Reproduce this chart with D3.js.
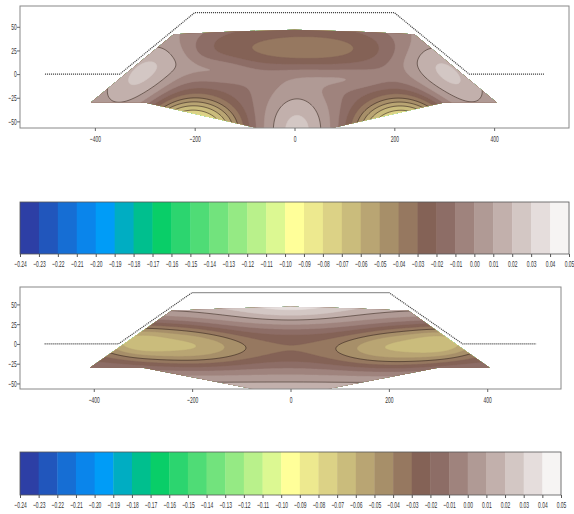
<!DOCTYPE html>
<html>
<head>
<meta charset="utf-8">
<script src="https://cdn.jsdelivr.net/npm/d3@7"></script>
<style>
  body { margin: 0; background: #fff; }
  text { font-family: "Liberation Sans", Arial, sans-serif; fill: #333; }
</style>
</head>
<body>
<svg id="chart" width="574" height="514"></svg>
<script>
// filled contour levels (same for both panels) and axis ticks
const levels = d3.range(30).map(i => +(-0.24 + i * 0.01).toFixed(2));
const xTicks = [-400, -200, 0, 200, 400];
const yTicks = [-50, -25, 0, 25, 50];

// dam outline, dotted
const outlineX = [-500, -350, -200, 200, 350, 500];
const outlineY = [0, 0, 65, 65, 0, 0];

// boundary of the meshed section where the field is drawn
const meshX = [-408, -300, -75, 75, 300, 405, 240, 120, 0, -120, -242];
const meshY = [-30, -30, -57, -57, -30, -30, 42, 45, 47, 45, 42];

// panel 1 : background value + features
// (centre x, centre y, half length, half width, tilt deg, amplitude, sharpness)
const base1 = -0.006;
const f1X   = [0, 20, -305, 308, 5, -205, 216, -205, 216, -150, 115];
const f1Y   = [30, 27, -2, -3, -58, -62, -62, -50, -50, 5, -6];
const f1Rx  = [230, 95, 115, 115, 72, 95, 95, 150, 150, 70, 80];
const f1Ry  = [50, 24, 60, 60, 86, 72, 72, 110, 110, 28, 20];
const f1Ang = [0, 0, 41, -41, 0, 0, 0, 0, 0, 0, 0];
const f1Amp = [-0.02, -0.013, 0.033, 0.033, 0.034, -0.066, -0.066, -0.016, -0.016, 0.012, 0.01];
const f1Pow = [4, 2, 2, 2, 2, 3, 3, 2, 2, 2, 2];
const lines1 = [-0.09, -0.08, -0.07, -0.06, -0.05, -0.04, 0.01];

// panel 2
const base2 = 0.03;
const f2X   = [0, 0, -240, 240, -320, 315];
const f2Y   = [-3, 50, 0, -3, 4, 4];
const f2Rx  = [4000, 140, 145, 145, 60, 60];
const f2Ry  = [86, 60, 52, 52, 40, 40];
const f2Ang = [0, 0, -6, 6, 0, 0];
const f2Amp = [-0.06, 0.02, -0.032, -0.032, -0.012, -0.012];
const f2Pow = [2, 2, 2.6, 2.6, 2, 2];
const lines2 = [-0.04, 0.01];

// matplotlib "terrain"
const terrain = d3.scaleLinear()
  .domain([0, 0.15, 0.25, 0.5, 0.75, 1])
  .range(["rgb(51,51,153)", "rgb(0,153,255)", "rgb(0,204,102)", "rgb(255,255,153)", "rgb(128,92,84)", "rgb(255,255,255)"])
  .interpolate(d3.interpolateRgb);
const vmin = levels[0], vmax = levels[levels.length - 1];
const binColor = k => terrain(((levels[k] + levels[k + 1]) / 2 - vmin) / (vmax - vmin));

const svg = d3.select("#chart");

function fieldAt(x, y, f) {
  let v = f.base;
  for (let i = 0; i < f.x.length; i++) {
    const dx = x - f.x[i], dy = (y - f.y[i]) * 2;
    const a = f.ang[i] * Math.PI / 180;
    const u = (dx * Math.cos(a) + dy * Math.sin(a)) / f.rx[i];
    const w = (-dx * Math.sin(a) + dy * Math.cos(a)) / f.ry[i];
    v += f.amp[i] * Math.exp(-Math.pow(u * u + w * w, f.pow[i] / 2));
  }
  return v;
}

function panel(id, box, f, lineLevels) {
  const x = d3.scaleLinear([-550, 550], [box.l, box.r]);
  const y = d3.scaleLinear([-57, 72], [box.b, box.t]);
  const g = svg.append("g");

  // clip to the mesh
  const meshPts = meshX.map((d, i) => [x(d), y(meshY[i])]);
  g.append("clipPath").attr("id", id)
    .append("path").attr("d", d3.line()(meshPts) + "Z");

  // sample the field on a pixel grid
  const step = 1;
  const n = Math.ceil((box.r - box.l) / step) + 1;
  const m = Math.ceil((box.b - box.t) / step) + 1;
  const vals = new Array(n * m);
  for (let j = 0; j < m; j++)
    for (let i = 0; i < n; i++)
      vals[j * n + i] = fieldAt(x.invert(box.l + i * step), y.invert(box.t + j * step), f);

  const proj = d3.geoIdentity().scale(step).translate([box.l - 0.5 * step, box.t - 0.5 * step]);
  const path = d3.geoPath(proj);

  const fills = d3.contours().size([n, m]).thresholds(levels.slice(0, -1))(vals);
  g.append("g").attr("clip-path", `url(#${id})`)
    .selectAll("path").data(fills).join("path")
    .attr("d", path)
    .attr("fill", (d, k) => binColor(k))
    .attr("stroke", (d, k) => binColor(k))
    .attr("stroke-width", 0.4);

  const iso = d3.contours().size([n, m]).thresholds(lineLevels)(vals);
  g.append("g").attr("clip-path", `url(#${id})`)
    .selectAll("path").data(iso).join("path")
    .attr("d", path)
    .attr("fill", "none")
    .attr("stroke", "#3a2a22")
    .attr("stroke-opacity", 0.75)
    .attr("stroke-width", 0.8);

  // dotted dam outline
  g.append("path")
    .attr("d", d3.line()(outlineX.map((d, i) => [x(d), y(outlineY[i])])))
    .attr("fill", "none")
    .attr("stroke", "#444")
    .attr("stroke-width", 1.2)
    .attr("stroke-dasharray", "1.1,0.9");

  // frame + axes
  g.append("rect")
    .attr("x", box.l).attr("y", box.t)
    .attr("width", box.r - box.l).attr("height", box.b - box.t)
    .attr("fill", "none").attr("stroke", "#888").attr("stroke-width", 1);

  const ax = g.append("g").attr("transform", `translate(0,${box.b})`)
    .call(d3.axisBottom(x).tickValues(xTicks).tickSize(3).tickSizeOuter(0).tickFormat(d => d < 0 ? "\u2212" + (-d) : d));
  const ay = g.append("g").attr("transform", `translate(${box.l},0)`)
    .call(d3.axisLeft(y).tickValues(yTicks).tickSize(3).tickSizeOuter(0).tickFormat(d => d < 0 ? "\u2212" + (-d) : d));
  [ax, ay].forEach(a => {
    a.select(".domain").remove();
    a.selectAll("line").attr("stroke", "#666");
    a.selectAll("text").attr("font-size", 9).attr("fill", "#333").attr("font-family", null);
  });
  ax.selectAll("text").attr("transform", "scale(0.55,1)").attr("dy", "0.9em");
  ay.selectAll("text").attr("transform", "scale(0.55,1)");
}

function colorbar(box) {
  const cx = d3.scaleLinear([vmin, vmax], [box.l, box.r]);
  const g = svg.append("g");
  g.selectAll("rect.bin").data(levels.slice(0, -1)).join("rect")
    .attr("class", "bin")
    .attr("x", d => cx(d)).attr("y", box.t)
    .attr("width", (d, k) => cx(levels[k + 1]) - cx(d) + 0.4)
    .attr("height", box.b - box.t)
    .attr("fill", (d, k) => binColor(k));
  g.append("rect")
    .attr("x", box.l).attr("y", box.t)
    .attr("width", box.r - box.l).attr("height", box.b - box.t)
    .attr("fill", "none").attr("stroke", "#555").attr("stroke-width", 0.8);
  const a = g.append("g").attr("transform", `translate(0,${box.b})`)
    .call(d3.axisBottom(cx).tickValues(levels).tickSize(3).tickSizeOuter(0).tickFormat(d3.format(".2f")));
  a.select(".domain").remove();
  a.selectAll("line").attr("stroke", "#555");
  a.selectAll("text").attr("font-size", 9).attr("fill", "#333").attr("font-family", null)
    .attr("transform", "scale(0.55,1)").attr("dy", "0.75em");
}

panel("clip1", { l: 20, r: 569, t: 6, b: 128 },
  { base: base1, x: f1X, y: f1Y, rx: f1Rx, ry: f1Ry, ang: f1Ang, amp: f1Amp, pow: f1Pow }, lines1);
colorbar({ l: 20, r: 569, t: 202, b: 254 });
panel("clip2", { l: 20, r: 561, t: 287, b: 389 },
  { base: base2, x: f2X, y: f2Y, rx: f2Rx, ry: f2Ry, ang: f2Ang, amp: f2Amp, pow: f2Pow }, lines2);
colorbar({ l: 20, r: 561, t: 452, b: 495 });
</script>
</body>
</html>
